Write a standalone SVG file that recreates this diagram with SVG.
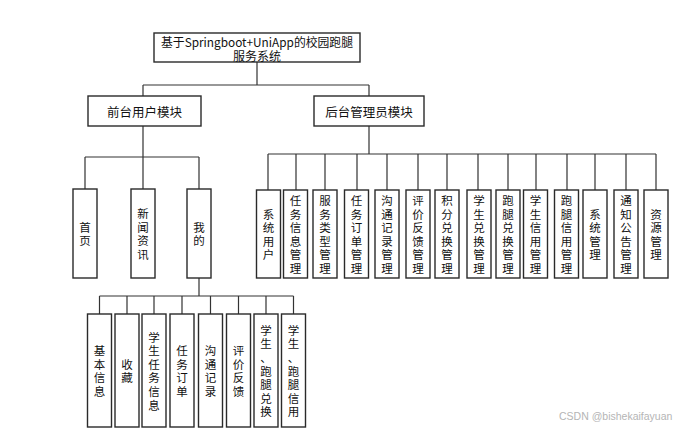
<svg xmlns="http://www.w3.org/2000/svg" width="695" height="442" viewBox="0 0 695 442">
<style>
.box{fill:#fff;stroke:#2a2a2a;stroke-width:1.4}
.t{font-family:"Noto Sans CJK SC","Liberation Sans",sans-serif;font-size:11.5px;fill:#111;text-anchor:middle;dominant-baseline:central}
.h{font-size:12px}
.m{font-size:12.5px}
.c{fill:none;stroke:#333;stroke-width:1.2}
.wm{font-family:"Liberation Sans","Noto Sans",sans-serif;font-size:10.5px;fill:#b5b5b5}
</style>
<rect width="695" height="442" fill="#fff"/>
<g id="connectors">
<path class="c" d="M257 62V85M143 85H369M143 85V96M369 85V96"/>
<path class="c" d="M143 126V157M85 157H199M85 157V189M143 157V189M199 157V189"/>
<path class="c" d="M199 278V296M99.5 296H293.5M99.5 296V314M127 296V314M154 296V314M182 296V314M210.5 296V314M238.5 296V314M266 296V314M293.5 296V314"/>
<path class="c" d="M369 126V154M268 154H656M268 154V190M296 154V190M325 154V190M357 154V190M387 154V190M418 154V190M447 154V190M478 154V190M508 154V190M536 154V190M567 154V190M595 154V190M626 154V190M656 154V190"/>
</g>
<g id="root">
<rect class="box" x="154" y="33" width="206" height="29"/>
<text class="t h" x="257" y="41" textLength="192" lengthAdjust="spacingAndGlyphs">基于Springboot+UniApp的校园跑腿</text>
<text class="t h" x="257" y="55">服务系统</text>
</g>
<g id="front">
<rect class="box" x="88" y="96" width="113" height="30"/>
<text class="t m" x="144.5" y="111">前台用户模块</text>
</g>
<g id="admin">
<rect class="box" x="314" y="96" width="110" height="30"/>
<text class="t m" x="369" y="111">后台管理员模块</text>
</g>
<g id="f1"><rect class="box" x="73" y="189" width="24" height="89"/><text class="t"><tspan x="85" y="226.7">首</tspan><tspan x="85" y="240.3">页</tspan></text></g>
<g id="f2"><rect class="box" x="131" y="189" width="24" height="89"/><text class="t"><tspan x="143" y="213.1">新</tspan><tspan x="143" y="226.7">闻</tspan><tspan x="143" y="240.3">资</tspan><tspan x="143" y="253.9">讯</tspan></text></g>
<g id="f3"><rect class="box" x="187" y="189" width="24" height="89"/><text class="t"><tspan x="199" y="226.7">我</tspan><tspan x="199" y="240.3">的</tspan></text></g>
<g id="m1"><rect class="box" x="87.5" y="314" width="24" height="113"/><text class="t"><tspan x="99.5" y="350.1">基</tspan><tspan x="99.5" y="363.7">本</tspan><tspan x="99.5" y="377.3">信</tspan><tspan x="99.5" y="390.9">息</tspan></text></g>
<g id="m2"><rect class="box" x="115" y="314" width="24" height="113"/><text class="t"><tspan x="127" y="363.7">收</tspan><tspan x="127" y="377.3">藏</tspan></text></g>
<g id="m3"><rect class="box" x="142" y="314" width="24" height="113"/><text class="t"><tspan x="154" y="336.5">学</tspan><tspan x="154" y="350.1">生</tspan><tspan x="154" y="363.7">任</tspan><tspan x="154" y="377.3">务</tspan><tspan x="154" y="390.9">信</tspan><tspan x="154" y="404.5">息</tspan></text></g>
<g id="m4"><rect class="box" x="170" y="314" width="24" height="113"/><text class="t"><tspan x="182" y="350.1">任</tspan><tspan x="182" y="363.7">务</tspan><tspan x="182" y="377.3">订</tspan><tspan x="182" y="390.9">单</tspan></text></g>
<g id="m5"><rect class="box" x="198.5" y="314" width="24" height="113"/><text class="t"><tspan x="210.5" y="350.1">沟</tspan><tspan x="210.5" y="363.7">通</tspan><tspan x="210.5" y="377.3">记</tspan><tspan x="210.5" y="390.9">录</tspan></text></g>
<g id="m6"><rect class="box" x="226.5" y="314" width="24" height="113"/><text class="t"><tspan x="238.5" y="350.1">评</tspan><tspan x="238.5" y="363.7">价</tspan><tspan x="238.5" y="377.3">反</tspan><tspan x="238.5" y="390.9">馈</tspan></text></g>
<g id="m7"><rect class="box" x="254" y="314" width="24" height="113"/><text class="t"><tspan x="266" y="329.7">学</tspan><tspan x="266" y="343.3">生</tspan><tspan x="266" y="356.9">、</tspan><tspan x="266" y="370.5">跑</tspan><tspan x="266" y="384.1">腿</tspan><tspan x="266" y="397.7">兑</tspan><tspan x="266" y="411.3">换</tspan></text></g>
<g id="m8"><rect class="box" x="281.5" y="314" width="24" height="113"/><text class="t"><tspan x="293.5" y="329.7">学</tspan><tspan x="293.5" y="343.3">生</tspan><tspan x="293.5" y="356.9">、</tspan><tspan x="293.5" y="370.5">跑</tspan><tspan x="293.5" y="384.1">腿</tspan><tspan x="293.5" y="397.7">信</tspan><tspan x="293.5" y="411.3">用</tspan></text></g>
<g id="a1"><rect class="box" x="256.5" y="190" width="24" height="88"/><text class="t"><tspan x="268.5" y="213.6">系</tspan><tspan x="268.5" y="227.2">统</tspan><tspan x="268.5" y="240.8">用</tspan><tspan x="268.5" y="254.4">户</tspan></text></g>
<g id="a2"><rect class="box" x="283.5" y="190" width="24" height="88"/><text class="t"><tspan x="295.5" y="200">任</tspan><tspan x="295.5" y="213.6">务</tspan><tspan x="295.5" y="227.2">信</tspan><tspan x="295.5" y="240.8">息</tspan><tspan x="295.5" y="254.4">管</tspan><tspan x="295.5" y="268">理</tspan></text></g>
<g id="a3"><rect class="box" x="313" y="190" width="24" height="88"/><text class="t"><tspan x="325" y="200">服</tspan><tspan x="325" y="213.6">务</tspan><tspan x="325" y="227.2">类</tspan><tspan x="325" y="240.8">型</tspan><tspan x="325" y="254.4">管</tspan><tspan x="325" y="268">理</tspan></text></g>
<g id="a4"><rect class="box" x="344.5" y="190" width="24" height="88"/><text class="t"><tspan x="356.5" y="200">任</tspan><tspan x="356.5" y="213.6">务</tspan><tspan x="356.5" y="227.2">订</tspan><tspan x="356.5" y="240.8">单</tspan><tspan x="356.5" y="254.4">管</tspan><tspan x="356.5" y="268">理</tspan></text></g>
<g id="a5"><rect class="box" x="375" y="190" width="24" height="88"/><text class="t"><tspan x="387" y="200">沟</tspan><tspan x="387" y="213.6">通</tspan><tspan x="387" y="227.2">记</tspan><tspan x="387" y="240.8">录</tspan><tspan x="387" y="254.4">管</tspan><tspan x="387" y="268">理</tspan></text></g>
<g id="a6"><rect class="box" x="406" y="190" width="24" height="88"/><text class="t"><tspan x="418" y="200">评</tspan><tspan x="418" y="213.6">价</tspan><tspan x="418" y="227.2">反</tspan><tspan x="418" y="240.8">馈</tspan><tspan x="418" y="254.4">管</tspan><tspan x="418" y="268">理</tspan></text></g>
<g id="a7"><rect class="box" x="435" y="190" width="24" height="88"/><text class="t"><tspan x="447" y="200">积</tspan><tspan x="447" y="213.6">分</tspan><tspan x="447" y="227.2">兑</tspan><tspan x="447" y="240.8">换</tspan><tspan x="447" y="254.4">管</tspan><tspan x="447" y="268">理</tspan></text></g>
<g id="a8"><rect class="box" x="467" y="190" width="24" height="88"/><text class="t"><tspan x="479" y="200">学</tspan><tspan x="479" y="213.6">生</tspan><tspan x="479" y="227.2">兑</tspan><tspan x="479" y="240.8">换</tspan><tspan x="479" y="254.4">管</tspan><tspan x="479" y="268">理</tspan></text></g>
<g id="a9"><rect class="box" x="496" y="190" width="24" height="88"/><text class="t"><tspan x="508" y="200">跑</tspan><tspan x="508" y="213.6">腿</tspan><tspan x="508" y="227.2">兑</tspan><tspan x="508" y="240.8">换</tspan><tspan x="508" y="254.4">管</tspan><tspan x="508" y="268">理</tspan></text></g>
<g id="a10"><rect class="box" x="523.5" y="190" width="24" height="88"/><text class="t"><tspan x="535.5" y="200">学</tspan><tspan x="535.5" y="213.6">生</tspan><tspan x="535.5" y="227.2">信</tspan><tspan x="535.5" y="240.8">用</tspan><tspan x="535.5" y="254.4">管</tspan><tspan x="535.5" y="268">理</tspan></text></g>
<g id="a11"><rect class="box" x="554.5" y="190" width="24" height="88"/><text class="t"><tspan x="566.5" y="200">跑</tspan><tspan x="566.5" y="213.6">腿</tspan><tspan x="566.5" y="227.2">信</tspan><tspan x="566.5" y="240.8">用</tspan><tspan x="566.5" y="254.4">管</tspan><tspan x="566.5" y="268">理</tspan></text></g>
<g id="a12"><rect class="box" x="583" y="190" width="24" height="88"/><text class="t"><tspan x="595" y="213.6">系</tspan><tspan x="595" y="227.2">统</tspan><tspan x="595" y="240.8">管</tspan><tspan x="595" y="254.4">理</tspan></text></g>
<g id="a13"><rect class="box" x="614" y="190" width="24" height="88"/><text class="t"><tspan x="626" y="200">通</tspan><tspan x="626" y="213.6">知</tspan><tspan x="626" y="227.2">公</tspan><tspan x="626" y="240.8">告</tspan><tspan x="626" y="254.4">管</tspan><tspan x="626" y="268">理</tspan></text></g>
<g id="a14"><rect class="box" x="644" y="190" width="24" height="88"/><text class="t"><tspan x="656" y="213.6">资</tspan><tspan x="656" y="227.2">源</tspan><tspan x="656" y="240.8">管</tspan><tspan x="656" y="254.4">理</tspan></text></g>
<text class="wm" x="559" y="420">CSDN @bishekaifayuan</text>
</svg>
